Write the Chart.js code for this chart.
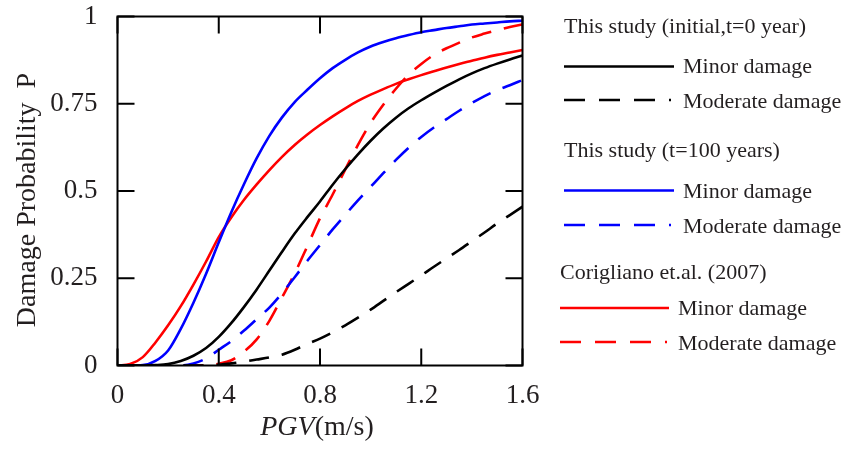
<!DOCTYPE html>
<html><head><meta charset="utf-8">
<script src="https://cdn.jsdelivr.net/npm/chart.js@4.4.0/dist/chart.umd.min.js"></script>
<style>
html,body{margin:0;padding:0;background:#fff;}
#wrap{position:relative;width:846px;height:450px;}
#c{position:absolute;left:0;top:0;}
svg{position:absolute;left:0;top:0;}
</style></head><body>
<div id="wrap"><canvas id="c" width="846" height="450"></canvas>
<svg width="846" height="450" font-family="Liberation Serif, Times New Roman, serif" fill="#231f20">
  <text x="35" y="200" font-size="28" text-anchor="middle" transform="rotate(-90 35 200)">Damage Probability&#160;&#160;P</text>
  <text x="317" y="435" font-size="28" text-anchor="middle"><tspan font-style="italic">PGV</tspan>(m/s)</text>
  <g font-size="22">
    <text x="564" y="33">This study (initial,t=0 year)</text>
    <line x1="564" y1="66.5" x2="674" y2="66.5" stroke="#000" stroke-width="2.5"/>
    <text x="683" y="73">Minor damage</text>
    <line x1="564" y1="100" x2="671" y2="100" stroke="#000" stroke-width="2.5" stroke-dasharray="21 14"/>
    <text x="683" y="108">Moderate damage</text>
    <text x="564" y="157">This study (t=100 years)</text>
    <line x1="564" y1="190.5" x2="674" y2="190.5" stroke="#0000ff" stroke-width="2.5"/>
    <text x="683" y="198">Minor damage</text>
    <line x1="564" y1="225" x2="671" y2="225" stroke="#0000ff" stroke-width="2.5" stroke-dasharray="21 14"/>
    <text x="683" y="233">Moderate damage</text>
    <text x="560" y="279">Corigliano et.al. (2007)</text>
    <line x1="560" y1="308" x2="669" y2="308" stroke="#ff0000" stroke-width="2.5"/>
    <text x="678" y="315">Minor damage</text>
    <line x1="560" y1="342" x2="667" y2="342" stroke="#ff0000" stroke-width="2.5" stroke-dasharray="21 14"/>
    <text x="678" y="350">Moderate damage</text>
  </g>
</svg></div>
<script>
const pgv = [0,0.05,0.1,0.15,0.2,0.25,0.3,0.35,0.4,0.45,0.5,0.55,0.6,0.65,0.7,0.75,0.8,0.85,0.9,0.95,1.0,1.05,1.1,1.15,1.2,1.25,1.3,1.35,1.4,1.45,1.5,1.55,1.6];
const t0Minor = [0,0,0,0.001,0.004,0.013,0.028,0.05,0.082,0.122,0.168,0.218,0.272,0.326,0.378,0.425,0.47,0.518,0.563,0.605,0.644,0.679,0.71,0.737,0.76,0.781,0.801,0.82,0.837,0.852,0.865,0.877,0.888];
const t0Moderate = [0,0,0,0,0,0,0,0,0.002,0.006,0.011,0.017,0.023,0.031,0.045,0.062,0.077,0.095,0.115,0.137,0.16,0.185,0.21,0.234,0.258,0.283,0.307,0.331,0.356,0.381,0.407,0.431,0.455];
const t100Minor = [0,0,0.001,0.013,0.043,0.105,0.18,0.263,0.353,0.44,0.52,0.594,0.658,0.711,0.755,0.79,0.823,0.852,0.876,0.897,0.914,0.927,0.938,0.947,0.955,0.961,0.967,0.972,0.977,0.98,0.983,0.986,0.988];
const t100Moderate = [0,0,0,0,0,0,0.006,0.02,0.045,0.07,0.1,0.133,0.166,0.207,0.253,0.3,0.345,0.39,0.432,0.473,0.512,0.551,0.589,0.624,0.655,0.682,0.706,0.73,0.752,0.772,0.789,0.803,0.818];
const corMinor = [0,0.004,0.024,0.066,0.115,0.17,0.232,0.298,0.368,0.425,0.475,0.519,0.56,0.598,0.632,0.662,0.689,0.714,0.737,0.758,0.776,0.792,0.807,0.82,0.832,0.843,0.854,0.864,0.873,0.882,0.89,0.897,0.904];
const corModerate = [0,0,0,0,0,0,0,0,0.005,0.015,0.04,0.075,0.128,0.195,0.264,0.342,0.422,0.49,0.562,0.632,0.695,0.747,0.793,0.833,0.864,0.89,0.909,0.925,0.94,0.951,0.961,0.97,0.977];
const xTicks = [0,0.4,0.8,1.2,1.6];
const yTicks = [0,0.25,0.5,0.75,1];

const pts = arr => arr.map((v,i)=>({x:pgv[i], y:v}));
const DASH = [20,13];
function ds(arr,color,dash){return {data:pts(arr),borderColor:color,borderWidth:2.6,borderDash:dash||[],pointRadius:0,fill:false,cubicInterpolationMode:'monotone'};}

const frame = {
  id:'frame',
  afterDatasetsDraw(chart){
    const {ctx,chartArea:a,scales:{x,y}} = chart;
    ctx.save();
    ctx.strokeStyle='#000'; ctx.lineWidth=2;
    ctx.strokeRect(a.left,a.top,a.right-a.left,a.bottom-a.top);
    const L=17;
    ctx.beginPath();
    xTicks.forEach(v=>{const p=x.getPixelForValue(v);ctx.moveTo(p,a.bottom);ctx.lineTo(p,a.bottom-L);ctx.moveTo(p,a.top);ctx.lineTo(p,a.top+L);});
    yTicks.forEach(v=>{const p=y.getPixelForValue(v);ctx.moveTo(a.left,p);ctx.lineTo(a.left+L,p);ctx.moveTo(a.right,p);ctx.lineTo(a.right-L,p);});
    ctx.stroke();
    ctx.restore();
  }
};

new Chart(document.getElementById('c'),{
  type:'line',
  data:{datasets:[
    ds(t0Minor,'#000000'),
    ds(t0Moderate,'#000000',DASH),
    ds(t100Minor,'#0000ff'),
    ds(t100Moderate,'#0000ff',DASH),
    ds(corMinor,'#ff0000'),
    ds(corModerate,'#ff0000',DASH)
  ]},
  options:{
    responsive:false,animation:false,
    layout:{padding:{left:0,top:16.5,right:323.5,bottom:0}},
    plugins:{legend:{display:false},tooltip:{enabled:false}},
    scales:{
      x:{type:'linear',min:0,max:1.6,
        afterBuildTicks(s){s.ticks=xTicks.map(v=>({value:v}));},
        afterFit(s){s.height=84.5;s.paddingLeft=0;s.paddingRight=0;},
        grid:{display:false},border:{display:false},
        ticks:{padding:6,color:'#231f20',font:{family:'Liberation Serif',size:27},callback:v=>String(v)}},
      y:{type:'linear',min:0,max:1,
        afterBuildTicks(s){s.ticks=yTicks.map(v=>({value:v}));},
        afterFit(s){s.width=117.5;s.paddingTop=0;s.paddingBottom=0;},
        grid:{display:false},border:{display:false},
        ticks:{padding:12,color:'#231f20',font:{family:'Liberation Serif',size:27},callback:v=>String(v)}}
    }
  },
  plugins:[frame]
});
</script></body></html>
